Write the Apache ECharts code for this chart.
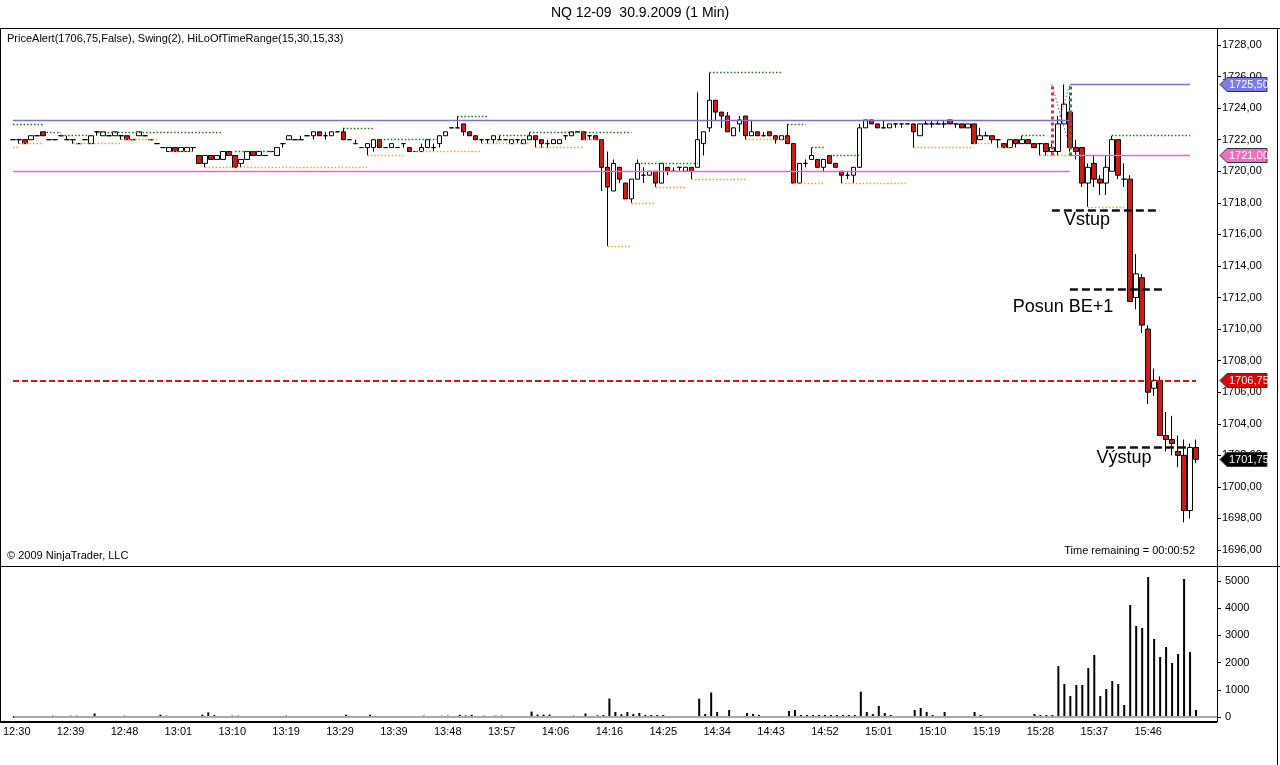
<!DOCTYPE html>
<html><head><meta charset="utf-8">
<script src="https://cdn.jsdelivr.net/npm/echarts@6/dist/echarts.min.js"></script>
<style>html,body{margin:0;padding:0;background:#fff}#c{width:1280px;height:765px}</style>
</head><body><div id="c"></div>
<script>
// ---- data ----
const tickLabels = ['12:30','12:39','12:48','13:01','13:10','13:19','13:29','13:39','13:48','13:57','14:06','14:16','14:25','14:34','14:43','14:52','15:01','15:10','15:19','15:28','15:37','15:46'];

const opens = [
1722,1722,1722,1722,1722.25,1722.5,1722,1722,1722.25,1722,
1722,1721.75,1722,1721.75,1722.5,1722.25,1722.25,1722.25,1722.25,1722.25,
1722,1722.25,1722.25,1722,1721.75,1721.5,1721.25,1721.5,1721.25,1721.25,
1721.5,1721,1720.5,1721,1720.75,1720.75,1721.25,1721,1720.5,1720.75,
1721.25,1721,1721,1721.25,1721,1721.75,1722,1722,1722,1722.25,
1722.25,1722.5,1722.25,1722.25,1722.5,1722.5,1722,1721.75,1721.5,1721.5,
1721.5,1722,1721.5,1721.5,1721.5,1721.75,1721.5,1721.25,1721.25,1721.5,
1721.5,1721.75,1722.25,1722.75,1722.75,1723,1722.5,1722.25,1722,1722,
1722,1722,1722,1721.75,1722,1721.75,1722,1722.25,1722,1721.75,
1721.75,1721.75,1722.25,1722.25,1722.5,1722.5,1722.25,1722.25,1722,1720.25,
1718.75,1720.25,1719.25,1718.25,1719.5,1719.75,1719.75,1720,1719.25,1720.25,
1720,1720.25,1720,1720.25,1720.25,1721.75,1722.75,1724.5,1723.75,1723.5,
1722.25,1723,1723.5,1722.25,1722.5,1722.25,1722.5,1722.25,1722,1722.25,
1721.75,1719.25,1720.5,1720.75,1720.75,1720.25,1721,1720.5,1720,1719.75,
1719.75,1720.25,1722.75,1723.25,1723,1722.75,1722.75,1723,1723,1723,
1723,1722.25,1723,1723,1723,1723,1723.25,1723,1723,1722.75,
1723,1722,1722.25,1722.25,1722,1721.75,1721.5,1722,1721.75,1722,
1721.75,1721.75,1721.75,1721.25,1721.25,1723,1723.75,1721.5,1721.5,1719.25,
1720.5,1719.5,1719.25,1720,1722,1719.5,1719.5,1712,1713.25,1710,
1706.25,1706.75,1703.25,1703,1702.25,1702,1698.5,1702.5];

const closes = [
1722,1722,1721.75,1722.25,1722.25,1722.25,1722,1722,1722.25,1722,
1722,1721.75,1722,1722.25,1722.5,1722.5,1722.25,1722.5,1722.25,1722,
1722,1722.5,1722.25,1722,1721.75,1721.5,1721.5,1721.25,1721.5,1721.5,
1721.5,1720.5,1721,1720.75,1721,1721.25,1721,1720.25,1720.75,1721.25,
1721,1721.25,1721,1721.25,1721.5,1721.75,1722.25,1722,1722,1722.25,
1722.5,1722.25,1722.25,1722.5,1722.5,1722,1722,1721.75,1721.5,1721.75,
1722,1721.5,1721.5,1721.75,1721.5,1721.75,1721.25,1721.25,1721.5,1722,
1721.5,1722.25,1722.5,1722.75,1722.75,1722.5,1722.25,1722,1722,1722,
1722.25,1722,1722,1722,1722,1722,1722.25,1722,1721.75,1721.75,
1722,1722,1722.25,1722.5,1722.5,1722,1722.25,1722,1720.25,1719,
1720.5,1719.5,1718.25,1719.5,1720.5,1719.75,1720,1719.25,1720.5,1720,
1720,1720.25,1720.25,1720,1722,1722.5,1724.5,1723.75,1723.5,1722.5,
1722.75,1723.25,1722.25,1722.5,1722.25,1722.25,1722.25,1722,1722.25,1721.75,
1719.25,1720.5,1720.5,1721,1720.25,1720.75,1720.5,1720.25,1719.75,1719.75,
1720.25,1722.75,1723.25,1723,1722.75,1722.75,1723,1723,1723,1723,
1722.5,1723,1723,1723,1723,1723,1723,1723,1722.75,1723,
1721.75,1722.25,1722.25,1722,1722,1721.5,1722,1721.75,1722,1721.75,
1721.5,1721.75,1721.25,1721.5,1723,1724.25,1721.5,1721.25,1719.25,1720.25,
1719.5,1719.25,1720.25,1722,1719.75,1719.5,1711.75,1713.5,1710.25,1706,
1706.75,1703.25,1703,1702.75,1702,1698.5,1702.5,1701.75];

const lows = [
1722,1721.75,1721.75,1722,1722.25,1722.25,1722,1722,1722.25,1722,
1721.75,1721.75,1722,1721.75,1722.25,1722.25,1722.25,1722.25,1722,1722,
1722,1722.25,1722.25,1722,1721.75,1721.5,1721.25,1721.25,1721.25,1721.25,
1721.25,1720.5,1720.25,1720.75,1720.75,1720.75,1721,1720.25,1720.25,1720.75,
1721,1721,1721,1721.25,1721,1721.5,1722,1722,1722,1722.25,
1722,1722.25,1722,1722.25,1722.5,1722,1722,1721.75,1721.5,1721,
1721.25,1721.5,1721.5,1721.5,1721.5,1721.5,1721.25,1721.25,1721.25,1721.5,
1721.25,1721.5,1722.25,1722.75,1722.75,1722.25,1722.25,1722,1721.75,1721.75,
1721.75,1722,1722,1721.75,1721.75,1721.75,1722,1721.5,1721.5,1721.5,
1721.75,1721.75,1722,1722.25,1722.5,1722,1722,1722,1718.75,1715.25,
1718.75,1719.25,1718.25,1718,1719.5,1719.25,1719.75,1719,1719.25,1719.75,
1720,1720,1720,1719.5,1720.25,1721,1722.5,1723.25,1722.75,1722.5,
1722.25,1722.5,1722,1722.25,1722.25,1722.25,1722.25,1721.75,1722,1721.75,
1719.25,1719.25,1720.25,1720.75,1720.25,1720,1720.5,1720.25,1719.25,1719.5,
1719.25,1720.25,1722.75,1723,1722.75,1722.75,1722.75,1722.75,1722.75,1723,
1721.5,1722.25,1723,1722.75,1723,1722.75,1723,1722.75,1722.75,1722.75,
1721.75,1722,1722.25,1721.75,1721.5,1721.5,1721.5,1721.5,1721.75,1721.75,
1721.5,1721,1721,1721,1721,1723,1721.25,1720.75,1719,1717.75,
1719,1718.5,1718.5,1720,1719.5,1719,1711.75,1711.25,1709.75,1705.25,
1705.75,1703.25,1702.25,1702,1701.25,1697.75,1698,1701.5];

const highs = [
1722,1722,1722,1722.25,1722.25,1722.5,1722,1722,1722.25,1722.25,
1722,1721.75,1722,1722.25,1722.5,1722.5,1722.25,1722.5,1722.25,1722.25,
1722,1722.5,1722.25,1722,1721.75,1721.5,1721.5,1721.5,1721.5,1721.5,
1721.5,1721,1721,1721,1721,1721.25,1721.25,1721,1720.75,1721.25,
1721.25,1721.25,1721,1721.25,1721.5,1721.75,1722.25,1722,1722.25,1722.25,
1722.5,1722.5,1722.5,1722.5,1722.5,1722.75,1722,1722,1721.5,1721.75,
1722,1722,1721.5,1721.75,1721.5,1721.75,1721.5,1721.25,1721.75,1722,
1721.75,1722.25,1722.5,1722.75,1723.5,1723,1722.5,1722.25,1722,1722,
1722.25,1722.25,1722,1722,1722,1722,1722.5,1722.25,1722,1722,
1722,1722,1722.25,1722.5,1722.5,1722.5,1722.25,1722.25,1722,1721.25,
1720.75,1720.25,1719.25,1719.5,1720.75,1720.25,1720,1720,1720.5,1720.25,
1720.25,1720.25,1720.25,1720.25,1725,1722.5,1726.25,1724.5,1723.75,1723.75,
1722.75,1723.5,1723.5,1723.25,1722.5,1722.5,1722.5,1722.25,1722.25,1723,
1721.75,1720.5,1720.75,1721.5,1720.75,1720.75,1721,1720.5,1720,1720,
1720.25,1723,1723.25,1723.25,1723,1723.25,1723,1723,1723,1723,
1723,1723,1723.25,1723.25,1723.25,1723.25,1723.25,1723,1723,1723,
1723,1722.75,1722.5,1722.25,1722,1721.75,1722,1722,1722.25,1722,
1721.75,1721.75,1721.75,1721.75,1723.5,1725.5,1724.75,1722,1721.5,1720.5,
1721,1719.75,1721,1722.25,1722,1720.5,1719.75,1714.75,1713.5,1710.25,
1707.5,1707,1704.75,1704.5,1703.25,1703,1702.75,1703];

const volumes = [
15,15,15,15,15,15,50,15,15,50,
50,15,15,130,15,15,15,15,50,15,
15,15,15,15,85,50,15,15,15,15,
15,85,170,70,15,15,50,50,15,15,
15,15,15,15,15,50,15,15,15,15,
15,15,15,15,15,85,15,15,15,85,
15,15,15,15,15,15,15,15,50,15,
15,50,50,15,80,55,80,15,50,15,
50,50,15,15,15,15,200,90,90,90,
15,15,15,50,15,130,15,60,75,680,
184,100,184,110,147,75,75,75,75,15,
37,37,37,15,674,110,900,184,37,257,
37,37,147,110,75,30,15,37,37,220,
257,75,75,75,75,75,75,75,75,75,
75,931,184,110,404,147,75,37,37,15,
257,331,184,75,37,184,37,37,15,15,
184,75,37,37,37,37,37,37,37,37,
110,75,75,75,1870,1213,772,1176,1176,1801,
2279,772,1029,1324,1213,441,4118,3346,3272,5147,
2868,2206,2574,1985,2316,5074,2390,257];

// swing lines [startBar, endBar, price]
const swingHighs = [[0,5,1723],[5,8,1722.5],[8,13,1722.25],[14,35,1722.5],[37,44,1721.25],[55,60,1722.75],[60,71,1722],[74,79,1723.5],[81,86,1722.25],[86,103,1722.5],[104,114,1720.5],[116,128,1726.25],[129,132,1723],[133,135,1721.5],[136,141,1721],[168,172,1722.25],[183,196,1722.25]];
const swingLows = [[0,1,1721.5],[1,5,1721.75],[10,18,1721.75],[18,24,1722],[26,30,1721.25],[32,59,1720.25],[59,65,1721],[67,78,1721.25],[78,86,1721.75],[87,95,1721.5],[95,98,1722],[99,103,1715.25],[103,107,1718],[107,112,1719],[113,122,1719.5],[122,129,1722],[130,135,1719.25],[138,149,1719.25],[150,160,1721.5],[160,163,1721.75],[164,167,1721.5],[171,176,1721],[179,185,1717.75]];

// HiLoOfTimeRange levels [startBar, endBar, price]
const rangeHighs = [[0,176,1723.25],[176,196,1725.5]];
const rangeLows = [[0,176,1720],[176,196,1721]];
const rangeBars = [173, 176];           // 15:30 and 15:33
const rangeBox = [1721, 1725.5];
const alertPrice = 1706.75;
const tradeLevels = [[173,191,1717.5,'Vstup'],[176,192,1712.5,'Posun BE+1'],[182,196,1702.5,'Výstup']];
const lastPrice = 1701.75;
const priceTags = [[1725.5,'#7b7bf0','#fff'],[1721,'#f070c0','#fff'],[1706.75,'#e00000','#fff'],[1701.75,'#000000','#fff']];

// ---- build ----
const EXTRA = 3;
const categories = Array.from({length: opens.length + EXTRA}, (_, i) => String(i));
const ohlc = opens.map((o, i) => [o, closes[i], lows[i], highs[i]]);
const fmt = v => v.toFixed(2).replace('.', ',');
const seg = (s, e, p, style) => [{coord: [s, p], lineStyle: style}, {coord: [e, p]}];

const greenDot = {color: '#1f6f1f', width: 1.3, type: [1.5, 2]};
const orangeDot = {color: '#e8a53c', width: 1.3, type: [1.5, 2]};

const lines = [];
swingHighs.forEach(s => lines.push(seg(s[0], s[1], s[2], greenDot)));
swingLows.forEach(s => lines.push(seg(s[0], s[1], s[2], orangeDot)));
rangeHighs.forEach(s => lines.push(seg(s[0], s[1], s[2], {color: '#7b70dc', width: 1.3, type: 'solid'})));
rangeLows.forEach(s => lines.push(seg(s[0], s[1], s[2], {color: '#ec6cb8', width: 1.3, type: 'solid'})));
lines.push(seg(0, opens.length - 1, alertPrice, {color: '#e01010', width: 2, type: [6, 3]}));
tradeLevels.forEach(s => lines.push(seg(s[0], s[1], s[2], {color: '#111', width: 2.5, type: [8, 4]})));
lines.push([{coord: [rangeBars[0], rangeBox[0]], lineStyle: {color: '#e8303a', width: 3, type: [3, 3]}}, {coord: [rangeBars[0], rangeBox[1]]}]);
lines.push([{coord: [rangeBars[1], rangeBox[0]], lineStyle: {color: '#1f8a3a', width: 3, type: [3, 3]}}, {coord: [rangeBars[1], rangeBox[1]]}]);
lines.push([{coord: [rangeBars[0], rangeBox[1]], lineStyle: {color: '#5050e0', width: 1, type: [1.5, 2]}}, {coord: [rangeBars[1], 1721.5]}]);
lines.push([{coord: [174, 1723], lineStyle: {color: '#5050e0', width: 1, type: [1.5, 2]}}, {coord: [rangeBars[1], rangeBox[1]]}]);

const chart = echarts.init(document.getElementById('c'));
const font = 'Liberation Sans, Arial, sans-serif';

chart.setOption({
  animation: false,
  backgroundColor: '#fff',
  textStyle: {fontFamily: font},
  grid: [
    {left: 10, right: 63, top: 45, height: 505},
    {left: 10, right: 63, top: 581, height: 136}
  ],
  xAxis: [
    {type: 'category', gridIndex: 0, data: categories, show: false, boundaryGap: true},
    {type: 'category', gridIndex: 1, data: categories, boundaryGap: true, offset: 5,
     axisLine: {lineStyle: {color: '#000', width: 2}},
     axisTick: {alignWithLabel: true, length: 5, lineStyle: {color: '#000'},
                interval: (i) => i % 9 === 0 && i / 9 < tickLabels.length},
     axisLabel: {color: '#000', fontSize: 11, margin: 4, fontFamily: font,
                 interval: (i) => i % 9 === 0 && i / 9 < tickLabels.length,
                 formatter: (v, i) => tickLabels[i / 9] || ''}}
  ],
  yAxis: [
    {type: 'value', gridIndex: 0, position: 'right', min: 1696, max: 1728, interval: 2, scale: true,
     splitLine: {show: false}, axisLine: {show: true, lineStyle: {color: '#000'}},
     axisTick: {show: true, length: 4, lineStyle: {color: '#000'}},
     axisLabel: {color: '#000', fontSize: 11, margin: 5, fontFamily: font, formatter: v => fmt(v)}},
    {type: 'value', gridIndex: 1, position: 'right', min: 0, max: 5000, interval: 1000,
     splitLine: {show: false}, axisLine: {show: true, lineStyle: {color: '#000'}},
     axisTick: {show: true, length: 4, lineStyle: {color: '#000'}},
     axisLabel: {color: '#000', fontSize: 11, margin: 8, fontFamily: font, formatter: v => String(v)}}
  ],
  series: [
    {
      type: 'candlestick', xAxisIndex: 0, yAxisIndex: 0, data: ohlc, barWidth: 5,
      itemStyle: {color: '#ffffff', color0: '#dc1414', borderColor: '#000', borderColor0: '#000', borderWidth: 1},
      markLine: {silent: true, symbol: ['none', 'none'], label: {show: false}, data: lines}
    },
    {
      type: 'bar', xAxisIndex: 1, yAxisIndex: 1, data: volumes, barWidth: 2, clip: false,
      itemStyle: {color: '#000'},
      markLine: {silent: true, symbol: ['none', 'none'], label: {show: false},
        lineStyle: {color: '#aaaaaa', width: 2, type: 'solid'}, data: [{yAxis: 0}]}
    }
  ]
});

const graphics = [
  {type: 'line', shape: {x1: 0, y1: 28.5, x2: 1280, y2: 28.5}, style: {stroke: '#000', lineWidth: 1}},
  {type: 'line', shape: {x1: 0, y1: 566.5, x2: 1280, y2: 566.5}, style: {stroke: '#000', lineWidth: 1}},
  {type: 'line', shape: {x1: 0.5, y1: 28, x2: 0.5, y2: 722}, style: {stroke: '#000', lineWidth: 1}},
  {type: 'line', shape: {x1: 1277.5, y1: 28, x2: 1277.5, y2: 765}, style: {stroke: '#000', lineWidth: 1}},
  {type: 'line', shape: {x1: 1217.5, y1: 28, x2: 1217.5, y2: 722}, style: {stroke: '#000', lineWidth: 1}},
  {type: 'line', shape: {x1: 0, y1: 722, x2: 1217, y2: 722}, style: {stroke: '#000', lineWidth: 2}},
  {type: 'text', left: 'center', top: 6, style: {text: 'NQ 12-09  30.9.2009 (1 Min)', font: '14px ' + font, fill: '#000'}},
  {type: 'text', x: 7, y: 33, style: {text: 'PriceAlert(1706,75,False), Swing(2), HiLoOfTimeRange(15,30,15,33)', font: '11px ' + font, fill: '#000'}},
  {type: 'text', x: 7, y: 550, style: {text: '© 2009 NinjaTrader, LLC', font: '11px ' + font, fill: '#000'}},
  {type: 'text', x: 1195, y: 545, style: {text: 'Time remaining = 00:00:52', font: '11px ' + font, fill: '#000', align: 'right'}},
  {type: 'text', x: 1087, y: 220, style: {text: tradeLevels[0][3], font: '18px ' + font, fill: '#000', align: 'center', verticalAlign: 'middle'}},
  {type: 'text', x: 1063, y: 307, style: {text: tradeLevels[1][3], font: '18px ' + font, fill: '#000', align: 'center', verticalAlign: 'middle'}},
  {type: 'text', x: 1124, y: 458, style: {text: tradeLevels[2][3], font: '18px ' + font, fill: '#000', align: 'center', verticalAlign: 'middle'}}
];
priceTags.forEach(([p, bg, fg]) => {
  const y = Math.round(chart.convertToPixel({yAxisIndex: 0}, p)) + 0.5;
  graphics.push({type: 'polygon', z: 10,
    shape: {points: [[1220, y], [1227, y - 7], [1267, y - 7], [1267, y + 7], [1227, y + 7]]},
    style: {fill: bg, stroke: '#333', lineWidth: 1}});
  graphics.push({type: 'text', z: 11, x: 1229, y: y + 0.5,
    style: {text: fmt(p), fill: fg, font: '11px ' + font, verticalAlign: 'middle'}});
});
chart.setOption({graphic: graphics});
</script></body></html>
